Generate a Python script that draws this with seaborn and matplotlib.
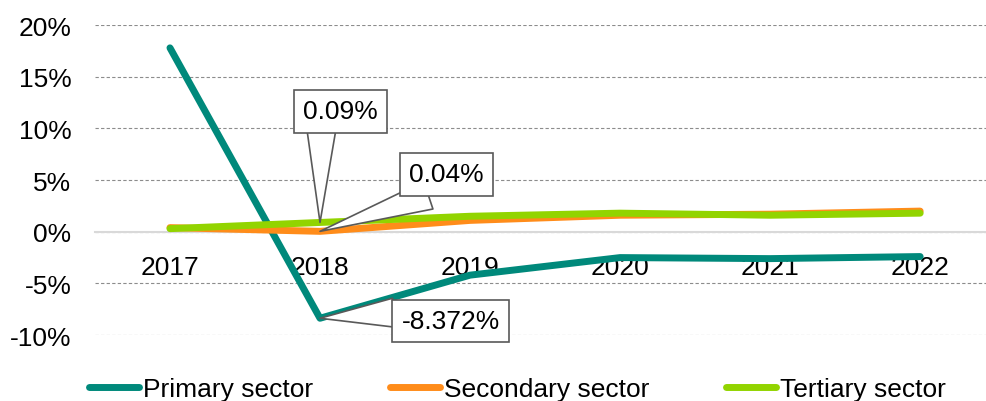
import matplotlib
matplotlib.use("Agg")
import matplotlib.pyplot as plt
import seaborn as sns
import pandas as pd
import numpy as np
from matplotlib.ticker import PercentFormatter, FixedLocator
from matplotlib.lines import Line2D

years = ["2017", "2018", "2019", "2020", "2021", "2022"]
primary = [17.8, -8.372, -4.2, -2.5, -2.6, -2.4]
secondary = [0.4, 0.04, 1.1, 1.6, 1.7, 2.0]
tertiary = [0.3, 0.9, 1.5, 1.8, 1.6, 1.8]
sectors = ["Primary sector", "Secondary sector", "Tertiary sector"]
colors = ["#00897B", "#FF8C1A", "#92D400"]
yticks = [-10, -5, 0, 5, 10, 15, 20]

sns.set_theme(style="white")
plt.rcParams["font.family"] = ["Liberation Sans", "DejaVu Sans"]
plt.rcParams["axes.unicode_minus"] = False
plt.rcParams["text.color"] = "black"

df = pd.DataFrame({
    "idx": list(range(len(years))) * 3,
    "value": primary + secondary + tertiary,
    "sector": [s for s in sectors for _ in years],
})

fig = plt.figure(figsize=(9.86, 4.02), dpi=100)
ax = fig.add_axes([0.0963, 0.164, 0.913, 0.771])

sns.lineplot(data=df, x="idx", y="value", hue="sector", palette=colors,
             hue_order=sectors, linewidth=5, solid_capstyle="round",
             solid_joinstyle="round", legend=False, ax=ax, zorder=3)

ax.set_xlim(-0.5, 5.5)
ax.set_ylim(-10, 20)
ax.set_xlabel("")
ax.set_ylabel("")

ax.set_yticks(yticks)
ax.yaxis.set_major_formatter(PercentFormatter(decimals=0))
ax.grid(axis="y", color="#8c8c8c", linestyle=(0, (3, 2)), linewidth=0.8)
ax.set_axisbelow(True)

for s in ["top", "right", "left"]:
    ax.spines[s].set_visible(False)
ax.spines["bottom"].set_position(("data", 0))
ax.spines["bottom"].set_color("#d9d9d9")
ax.spines["bottom"].set_linewidth(1.5)
ax.spines["bottom"].set_zorder(2)

ax.set_xticks(range(len(years)))
ax.set_xticklabels(years)
ax.xaxis.set_minor_locator(FixedLocator(np.arange(-0.5, 5.6, 1.0)))
ax.tick_params(axis="x", which="major", length=0, pad=17, labelsize=19, colors="black")
ax.tick_params(axis="x", which="minor", length=11.5, width=1.5, direction="inout", color="#d9d9d9")
ax.tick_params(axis="y", length=0, pad=17, labelsize=19, colors="black")

box = dict(boxstyle="square,pad=0.35", fc="white", ec="#595959", lw=1.2)
wedge = dict(arrowstyle="wedge,tail_width=1.1,shrink_factor=0.5", fc="white", ec="#595959",
             lw=1.2, shrinkA=0, shrinkB=0, mutation_scale=19)

callouts = [
    ("0.09%", (1, tertiary[1]), (1, 67), (15, 80)),
    ("0.04%", (1, secondary[1]), (78, 26), (91, 41)),
    ("-8.372%", (1, primary[1]), (53, 4), (94, -2)),
]
for text, xy, base, center in callouts:
    ax.annotate("", xy=xy, xytext=base, textcoords="offset points",
                arrowprops=wedge, zorder=5)
    ax.annotate(text, xy=xy, xytext=center, textcoords="offset points",
                ha="center", va="center", fontsize=19, color="black", bbox=box, zorder=6)

handles = [Line2D([0], [0], color=c, lw=5, solid_capstyle="round") for c in colors]
fig.legend(handles, sectors, loc="center", bbox_to_anchor=(0.525, 0.03), ncol=3,
           frameon=False, fontsize=19, handlelength=1.9, handletextpad=0.15,
           columnspacing=2.9, labelcolor="black")

fig.savefig("out.png", dpi=100)
